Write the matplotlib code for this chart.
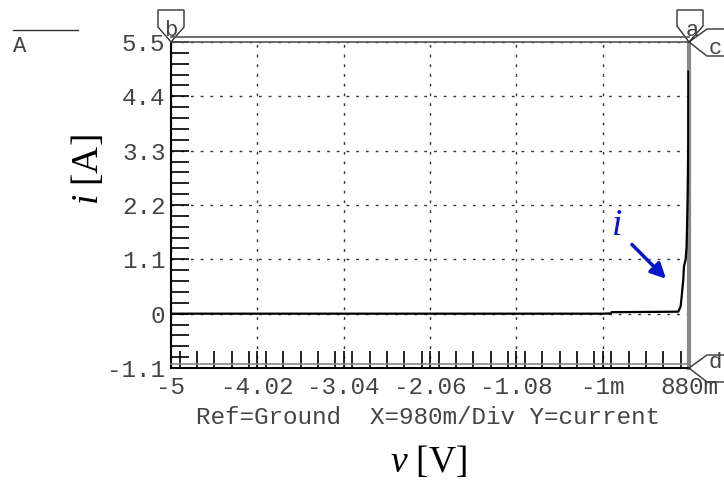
import numpy as np
import matplotlib
matplotlib.use("Agg")
import matplotlib.pyplot as plt
from matplotlib.patches import Polygon
from matplotlib.lines import Line2D
from matplotlib.ticker import MultipleLocator, FixedLocator

plt.rcParams['mathtext.fontset'] = 'custom'
plt.rcParams['mathtext.rm'] = 'Liberation Serif'
plt.rcParams['mathtext.it'] = 'Liberation Serif:italic'

# sweep data
volts = [-5.0, -0.10, -0.006, 0.0, 0.758, 0.785, 0.797, 0.815, 0.823, 0.842, 0.853, 0.865, 0.872, 0.874]
amps = [0.0, 0.0, 0.005, 0.03, 0.04, 0.145, 0.35, 0.69, 0.96, 1.1, 1.37, 2.39, 3.5, 4.9]

xticks = [-5, -4.02, -3.04, -2.06, -1.08, -0.1, 0.88]
xlabels = ["-5", "-4.02", "-3.04", "-2.06", "-1.08", "-1m", "880m"]
yticks = [-1.1, 0, 1.1, 2.2, 3.3, 4.4, 5.5]
ylabels = ["-1.1", "0", "1.1", "2.2", "3.3", "4.4", "5.5"]

W, H = 724, 488
mono = 'Liberation Mono'
txtcol = '#444444'
msize = 17.5

fig = plt.figure(figsize=(W / 100, H / 100), dpi=100)
ax = fig.add_axes([171 / W, 1 - 368 / H, (689 - 171) / W, (368 - 42) / H])

ax.plot(volts, amps, color='black', lw=1.6, zorder=3)

ax.set_xlim(-5, 0.88)
ax.set_ylim(-1.1, 5.5)
ax.xaxis.set_major_locator(FixedLocator(xticks))
ax.set_xticklabels(xlabels)
ax.yaxis.set_major_locator(FixedLocator(yticks))
ax.set_yticklabels(ylabels)
ax.xaxis.set_minor_locator(MultipleLocator(0.98 / 5))
ax.yaxis.set_minor_locator(MultipleLocator(1.1 / 5))

ax.tick_params(axis='both', which='both', direction='in', color='black', width=1.2)
ax.tick_params(axis='x', which='both', length=12, pad=6)
ax.tick_params(axis='y', which='both', length=13, pad=4)
for lab in ax.get_xticklabels() + ax.get_yticklabels():
    lab.set_fontfamily(mono)
    lab.set_fontsize(msize)
    lab.set_color(txtcol)

ax.grid(True, which='major', color='#333333', lw=1, linestyle=(0, (2, 5)))
ax.set_axisbelow(True)

ax.spines['left'].set_linewidth(1.5)
ax.spines['bottom'].set_linewidth(1.5)
ax.spines['top'].set_color('#555555')
ax.spines['top'].set_linewidth(1.2)
ax.spines['right'].set_color('#888888')
ax.spines['right'].set_linewidth(3)


def fp(x, y):
    return (x / W, 1 - y / H)


# double lines of the frame
fig.add_artist(Line2D([171 / W, 689 / W], [1 - 37 / H, 1 - 37 / H], color='#555555', lw=1.2))
fig.add_artist(Line2D([171 / W, 689 / W], [1 - 364 / H, 1 - 364 / H], color='#888888', lw=1.2))

# cursor markers
shapes = {
    'b': ([(158, 10), (184, 10), (184, 27), (171, 42), (158, 27)], (171, 30)),
    'a': ([(677, 10), (703, 10), (703, 26), (689, 42), (677, 26)], (692, 30)),
}
for key, (pts, tpos) in shapes.items():
    fig.add_artist(Polygon([fp(*p) for p in pts], closed=True, transform=fig.transFigure,
                           facecolor='white', edgecolor='#333333', lw=1))
    fig.text(*fp(*tpos), key, family=mono, fontsize=16, color=txtcol, ha='center', va='center')

for key, y0, tpos in [('c', 42, (715, 48)), ('d', 368, (715, 363))]:
    pts = [(724, y0 - 13), (707, y0 - 13), (689, y0), (707, y0 + 14), (724, y0 + 14)]
    fig.add_artist(Line2D([p[0] / W for p in pts], [1 - p[1] / H for p in pts],
                          color='#333333', lw=1))
    fig.text(*fp(*tpos), key, family=mono, fontsize=16, color=txtcol, ha='center', va='center')

# trace legend in the corner
fig.add_artist(Line2D([13 / W, 78 / W], [1 - 30 / H, 1 - 30 / H], color='#333333', lw=1))
fig.text(*fp(20, 47), "A", family=mono, fontsize=16, color=txtcol, ha='center', va='center')

fig.text(*fp(428, 418), "Ref=Ground  X=980m/Div Y=current", family=mono, fontsize=msize,
         color=txtcol, ha='center', va='center')

fig.text(*fp(428, 462), r'$v\ [\mathrm{V}]$', fontsize=27, ha='center', va='center')
fig.text(*fp(88, 170), r'$i\ [\mathrm{A}]$', fontsize=27, ha='center', va='center', rotation=90)

ax.annotate('', xy=(0.641, 0.667), xytext=(0.21, 1.44),
            arrowprops=dict(arrowstyle='-|>,head_length=0.9,head_width=0.45', color='#0a14c8', lw=2.5))
ax.text(0.062, 1.8, r'$i$', fontsize=27, color='#0a14c8', ha='center', va='center')

fig.savefig('out.png', dpi=100)
